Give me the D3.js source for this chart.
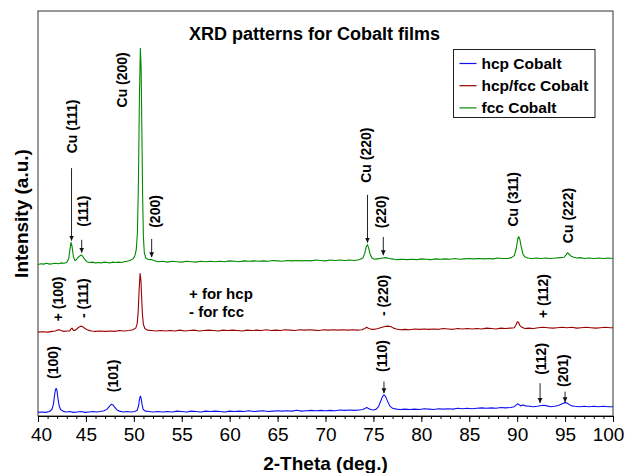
<!DOCTYPE html>
<html><head><meta charset="utf-8">
<script src="https://cdn.jsdelivr.net/npm/d3@7"></script>
<style>body{margin:0;background:#fff}</style>
</head><body><svg id="chart" width="627" height="473"></svg>
<script>
// 2-Theta (deg.) , intensity (a.u., offset stacked)
const hcp = [
[40.0,0.9],[40.4,1.0],[40.8,0.9],[41.2,1.1],[41.45,1.6],[41.6,2.8],[41.72,5.0],[41.83,6.6],[41.9,6.8],[41.98,6.3],[42.08,4.4],[42.2,2.6],[42.35,1.6],[42.6,1.2],[42.9,1.0],[43.3,1.1],[43.7,0.9],[44.1,1.0],[44.5,1.1],[44.9,0.9],[45.3,1.0],[45.7,1.1],[46.1,1.0],[46.5,1.1],[46.9,1.3],[47.2,1.7],[47.45,2.4],[47.65,2.9],[47.8,2.8],[48.0,2.2],[48.25,1.5],[48.5,1.2],[48.9,1.0],[49.3,1.1],[49.7,1.0],[50.1,1.1],[50.35,1.4],[50.5,2.6],[50.6,4.3],[50.68,4.9],[50.76,4.4],[50.86,2.8],[50.98,1.6],[51.2,1.2],[51.6,1.1],[52.0,1.0],[52.5,1.1],[53.0,1.0],[53.5,1.1],[54.0,1.0],[54.5,1.2],[55.0,1.1],[55.5,1.0],[56.0,1.2],[56.5,1.1],[57.0,1.0],[57.5,1.2],[58.0,1.1],[58.5,1.2],[59.0,1.1],[59.5,1.0],[60.0,1.2],[60.5,1.1],[61.0,1.2],[61.5,1.1],[62.0,1.3],[62.5,1.1],[63.0,1.2],[63.5,1.3],[64.0,1.1],[64.5,1.2],[65.0,1.3],[65.5,1.2],[66.0,1.3],[66.5,1.2],[67.0,1.4],[67.5,1.2],[68.0,1.3],[68.5,1.4],[69.0,1.3],[69.5,1.4],[70.0,1.3],[70.5,1.4],[71.0,1.3],[71.5,1.5],[72.0,1.4],[72.5,1.5],[73.0,1.4],[73.5,1.5],[73.9,1.6],[74.15,1.9],[74.3,2.1],[74.45,1.9],[74.7,1.6],[75.0,1.5],[75.3,1.7],[75.55,2.4],[75.75,3.6],[75.95,4.8],[76.1,5.2],[76.25,4.9],[76.45,3.8],[76.7,2.5],[77.0,1.9],[77.4,1.7],[77.8,1.6],[78.3,1.7],[78.8,1.6],[79.3,1.7],[79.8,1.6],[80.3,1.8],[80.8,1.7],[81.3,1.6],[81.8,1.8],[82.3,1.7],[82.8,1.8],[83.3,1.7],[83.8,1.9],[84.3,1.8],[84.8,1.9],[85.3,1.8],[85.8,1.9],[86.3,2.0],[86.8,1.9],[87.3,2.0],[87.8,1.9],[88.3,2.1],[88.8,2.0],[89.3,2.1],[89.7,2.3],[89.95,2.8],[90.05,3.0],[90.2,2.8],[90.35,2.5],[90.6,2.7],[90.9,2.5],[91.3,2.4],[91.7,2.3],[92.1,2.4],[92.5,2.6],[92.8,2.65],[93.1,2.5],[93.5,2.3],[93.9,2.4],[94.3,2.6],[94.6,2.9],[94.85,3.2],[95.0,3.3],[95.2,3.2],[95.45,2.8],[95.7,2.5],[96.0,2.4],[96.5,2.3],[97.0,2.4],[97.5,2.3],[98.0,2.4],[98.5,2.3],[99.0,2.4],[99.5,2.3],[100.0,2.3]
];
const hcpFcc = [
[40.0,20.7],[40.5,20.8],[41.0,20.7],[41.5,20.9],[41.8,21.0],[42.0,21.2],[42.2,21.3],[42.4,21.1],[42.7,20.9],[43.0,21.0],[43.3,21.0],[43.45,21.5],[43.55,21.7],[43.7,21.1],[43.9,21.2],[44.1,21.6],[44.3,22.0],[44.5,22.2],[44.7,22.0],[44.9,21.6],[45.2,21.2],[45.6,21.0],[46.0,20.9],[46.5,21.0],[47.0,20.9],[47.5,21.0],[48.0,20.9],[48.5,21.1],[49.0,21.0],[49.5,21.1],[49.9,21.3],[50.2,21.7],[50.35,22.8],[50.45,25.5],[50.55,31.0],[50.65,35.2],[50.74,33.5],[50.82,29.0],[50.9,25.0],[51.0,22.6],[51.15,21.6],[51.4,21.2],[51.8,21.1],[52.3,21.0],[52.8,21.1],[53.3,21.0],[53.8,21.1],[54.3,21.0],[54.8,21.2],[55.3,21.0],[55.8,21.1],[56.3,21.2],[56.8,21.0],[57.3,21.1],[57.8,21.2],[58.3,21.1],[58.8,21.0],[59.3,21.2],[59.8,21.1],[60.3,21.2],[60.8,21.1],[61.3,21.0],[61.8,21.2],[62.3,21.1],[62.8,21.2],[63.3,21.1],[63.8,21.3],[64.3,21.1],[64.8,21.2],[65.3,21.1],[65.8,21.3],[66.3,21.2],[66.8,21.1],[67.3,21.3],[67.8,21.2],[68.3,21.3],[68.8,21.2],[69.3,21.1],[69.8,21.3],[70.3,21.2],[70.8,21.3],[71.3,21.2],[71.8,21.3],[72.3,21.2],[72.8,21.3],[73.3,21.2],[73.8,21.3],[74.1,21.6],[74.3,21.9],[74.5,21.6],[74.8,21.4],[75.1,21.4],[75.5,21.6],[75.9,21.9],[76.2,22.1],[76.5,22.2],[76.8,22.1],[77.1,21.7],[77.4,21.5],[77.8,21.3],[78.3,21.4],[78.8,21.3],[79.3,21.5],[79.8,21.4],[80.3,21.5],[80.8,21.4],[81.3,21.5],[81.8,21.4],[82.3,21.6],[82.8,21.5],[83.3,21.4],[83.8,21.6],[84.3,21.5],[84.8,21.6],[85.3,21.5],[85.8,21.6],[86.3,21.5],[86.8,21.7],[87.3,21.6],[87.8,21.5],[88.3,21.7],[88.8,21.6],[89.3,21.7],[89.7,21.8],[89.9,22.6],[90.02,23.3],[90.15,23.1],[90.3,22.3],[90.5,21.9],[90.8,21.6],[91.2,21.7],[91.7,21.6],[92.2,21.8],[92.7,21.9],[93.2,21.8],[93.7,21.7],[94.2,21.8],[94.7,21.9],[95.2,21.8],[95.7,21.9],[96.2,21.7],[96.7,21.8],[97.2,21.9],[97.7,21.8],[98.2,21.7],[98.7,21.8],[99.2,21.9],[99.7,21.8],[100.0,21.8]
];
const fcc = [
[40.0,37.4],[40.3,37.6],[40.6,37.5],[40.9,37.7],[41.2,37.5],[41.5,37.6],[41.8,37.7],[42.1,37.6],[42.4,37.8],[42.7,37.7],[43.0,37.9],[43.2,38.8],[43.35,41.4],[43.45,42.9],[43.55,41.9],[43.7,39.3],[43.85,38.4],[44.0,38.6],[44.2,39.2],[44.4,39.6],[44.55,39.75],[44.7,39.3],[44.9,38.6],[45.1,38.1],[45.4,37.9],[45.7,38.0],[46.0,37.8],[46.3,37.9],[46.6,37.8],[46.9,38.0],[47.2,37.9],[47.5,37.8],[47.8,38.0],[48.1,37.9],[48.4,38.0],[48.7,37.9],[49.0,38.1],[49.3,38.2],[49.6,38.4],[49.9,38.8],[50.1,39.5],[50.25,41.0],[50.38,45.5],[50.48,58],[50.58,78],[50.68,90.8],[50.76,86],[50.84,70],[50.92,54],[51.0,44],[51.1,40.2],[51.25,39.0],[51.45,38.7],[51.7,38.6],[51.9,38.6],[52.1,38.4],[52.5,38.1],[53.0,38.2],[53.5,38.0],[54.0,38.2],[54.5,38.1],[55.0,38.0],[55.5,38.2],[56.0,38.1],[56.5,38.0],[57.0,38.2],[57.5,38.1],[58.0,38.2],[58.5,38.1],[59.0,38.2],[59.5,38.1],[60.0,38.3],[60.5,38.2],[61.0,38.1],[61.5,38.3],[62.0,38.2],[62.5,38.3],[63.0,38.2],[63.5,38.3],[64.0,38.2],[64.5,38.4],[65.0,38.3],[65.5,38.2],[66.0,38.4],[66.5,38.3],[67.0,38.4],[67.5,38.3],[68.0,38.4],[68.5,38.3],[69.0,38.5],[69.5,38.4],[70.0,38.3],[70.5,38.5],[71.0,38.4],[71.5,38.5],[72.0,38.4],[72.5,38.5],[73.0,38.4],[73.5,38.6],[73.9,39.0],[74.1,40.2],[74.25,41.8],[74.38,42.3],[74.5,41.5],[74.65,40.0],[74.85,39.0],[75.1,38.7],[75.4,38.8],[75.7,38.9],[76.0,39.0],[76.3,39.1],[76.6,38.9],[76.9,38.8],[77.2,38.7],[77.5,38.6],[78.0,38.7],[78.5,38.6],[79.0,38.7],[79.5,38.6],[80.0,38.8],[80.5,38.7],[81.0,38.6],[81.5,38.8],[82.0,38.7],[82.5,38.8],[83.0,38.7],[83.5,38.9],[84.0,38.7],[84.5,38.8],[85.0,38.9],[85.5,38.8],[86.0,38.9],[86.5,38.8],[87.0,38.9],[87.5,38.8],[88.0,39.0],[88.5,38.9],[89.0,38.9],[89.4,39.1],[89.7,39.6],[89.9,41.3],[90.05,43.6],[90.15,44.3],[90.28,43.6],[90.42,41.8],[90.6,40.0],[90.8,39.3],[91.1,39.0],[91.5,38.9],[92.0,39.0],[92.5,38.9],[93.0,39.0],[93.5,38.9],[94.0,39.0],[94.5,39.1],[94.9,39.2],[95.1,39.8],[95.25,40.3],[95.4,40.0],[95.6,39.5],[95.9,39.2],[96.2,39.0],[96.6,39.1],[97.0,38.9],[97.5,39.0],[98.0,38.9],[98.5,39.0],[99.0,38.9],[99.5,39.0],[100.0,38.9]
];
const seriesNames = ["hcp Cobalt", "hcp/fcc Cobalt", "fcc Cobalt"];
const seriesColors = ["#1010f0", "#990000", "#008a00"];
const majorTicks = [40, 45, 50, 55, 60, 65, 70, 75, 80, 85, 90, 95, 100];
// peak annotations: text, label position (2-theta, intensity), optional arrow [2-theta, from, to]
const peakLabels = [
  {text: "Cu (111)", t: 43.55, v: 71.5, arrow: [43.5, 61.2, 43.3]},
  {text: "(111)",    t: 44.7,  v: 50.6, arrow: [44.56, 43.5, 40.3]},
  {text: "Cu (200)", t: 48.77, v: 83.0, arrow: null},
  {text: "(200)",    t: 52.2,  v: 50.5, arrow: [51.86, 43.7, 39.2]},
  {text: "Cu (220)", t: 74.2,  v: 64.4, arrow: [74.38, 54.6, 42.8]},
  {text: "(220)",    t: 75.8,  v: 50.4, arrow: [76.03, 44.2, 39.7]},
  {text: "Cu (311)", t: 89.6,  v: 53.5, arrow: null},
  {text: "Cu (222)", t: 95.3,  v: 49.5, arrow: null},
  {text: "+ (100)",  t: 42.12, v: 28.9, arrow: null},
  {text: "- (111)",  t: 44.73, v: 29.1, arrow: null},
  {text: "- (220)",  t: 76.03, v: 29.75, arrow: null},
  {text: "+ (112)",  t: 92.67, v: 29.6, arrow: null},
  {text: "(100)",    t: 41.6,  v: 13.2, arrow: null},
  {text: "(101)",    t: 47.86, v: 9.9,  arrow: null},
  {text: "(110)",    t: 75.86, v: 14.8, arrow: [76.1, 8.5, 5.6]},
  {text: "(112)",    t: 92.46, v: 14.1, arrow: [92.39, 8.1, 3.2]},
  {text: "(201)",    t: 94.8,  v: 11.2, arrow: [95.0, 6.0, 3.4]}
];
const noteLines = ["+ for hcp", "- for fcc"];
const noteT = 55.76, noteV = [29.0, 24.4];

const FONT = "'Liberation Sans', Arial, Helvetica, sans-serif";
const svg = d3.select("#chart").style("font-family", FONT);
const m = {left: 38, top: 11, right: 14, bottom: 57};
const W = 627 - m.left - m.right, H = 473 - m.top - m.bottom;
const x = d3.scaleLinear().domain([40, 100]).range([0, W]);
const y = d3.scaleLinear().domain([0, 100]).range([H, 0]);
const g = svg.append("g").attr("transform", `translate(${m.left},${m.top})`);

svg.append("defs").append("marker")
  .attr("id", "arr").attr("markerUnits", "userSpaceOnUse")
  .attr("markerWidth", 6).attr("markerHeight", 6).attr("refX", 5).attr("refY", 3)
  .attr("orient", "auto")
  .append("path").attr("d", "M0,0.6 L5,3 L0,5.4 Z").attr("fill", "#111");

// frame
g.append("rect").attr("width", W).attr("height", H)
  .attr("fill", "none").attr("stroke", "#333").attr("stroke-width", 1);

// x axis: minor + major ticks
const minor = g.append("g").attr("transform", `translate(0,${H})`)
  .call(d3.axisBottom(x).tickValues(d3.range(40, 101, 1)).tickSize(3).tickFormat(""));
minor.select(".domain").remove();
const major = g.append("g").attr("transform", `translate(0,${H})`)
  .call(d3.axisBottom(x).tickValues(majorTicks).tickSize(6).tickPadding(6).tickFormat(d3.format("d")));
major.select(".domain").attr("stroke", "#000");
major.selectAll("text").attr("font-size", 19).attr("font-family", FONT).attr("fill", "#000")
  .attr("dx", d => d === 100 ? -5 : (d === 40 ? 3 : 0));
g.selectAll(".tick line").attr("stroke", "#000");

// lines
const line = d3.line().x(d => x(d[0])).y(d => y(d[1]));
[hcp, hcpFcc, fcc].forEach((s, i) => {
  g.append("path").datum(s).attr("d", line).attr("fill", "none")
    .attr("stroke", seriesColors[i]).attr("stroke-width", 1.1).attr("stroke-linejoin", "round");
});

// annotations
peakLabels.forEach(d => {
  g.append("text")
    .attr("transform", `translate(${x(d.t)},${y(d.v)}) rotate(-90)`)
    .attr("text-anchor", "middle").attr("dy", "0.36em")
    .attr("font-size", 14).attr("font-weight", "bold").attr("fill", "#000")
    .text(d.text);
  if (d.arrow) {
    g.append("line")
      .attr("x1", x(d.arrow[0])).attr("x2", x(d.arrow[0]))
      .attr("y1", y(d.arrow[1])).attr("y2", y(d.arrow[2]))
      .attr("stroke", "#222").attr("stroke-width", 1)
      .attr("marker-end", "url(#arr)");
  }
});
noteLines.forEach((t, i) => {
  g.append("text").attr("x", x(noteT)).attr("y", y(noteV[i]))
    .attr("font-size", 15).attr("font-weight", "bold").text(t);
});

// title
g.append("text").attr("x", 276.5).attr("y", 28.5).attr("text-anchor", "middle")
  .attr("font-size", 18).attr("font-weight", "bold").text("XRD patterns for Cobalt films");

// axis titles
svg.append("text").attr("x", m.left + W / 2).attr("y", 470).attr("text-anchor", "middle")
  .attr("font-size", 19).attr("font-weight", "bold").text("2-Theta (deg.)");
svg.append("text").attr("transform", `translate(28,${m.top + H / 2}) rotate(-90)`)
  .attr("text-anchor", "middle").attr("font-size", 19).attr("font-weight", "bold")
  .text("Intensity (a.u.)");

// legend
const lg = svg.append("g").attr("transform", "translate(453.5,49.5)");
lg.append("rect").attr("width", 141.5).attr("height", 68)
  .attr("fill", "#fff").attr("stroke", "#222").attr("stroke-width", 1);
seriesNames.forEach((n, i) => {
  const cy = 14 + i * 22.2;
  lg.append("line").attr("x1", 6).attr("x2", 23).attr("y1", cy).attr("y2", cy)
    .attr("stroke", seriesColors[i]).attr("stroke-width", 1.2);
  lg.append("text").attr("x", 28).attr("y", cy).attr("dy", "0.36em")
    .attr("font-size", 15.5).attr("font-weight", "bold").text(n);
});
</script></body></html>
